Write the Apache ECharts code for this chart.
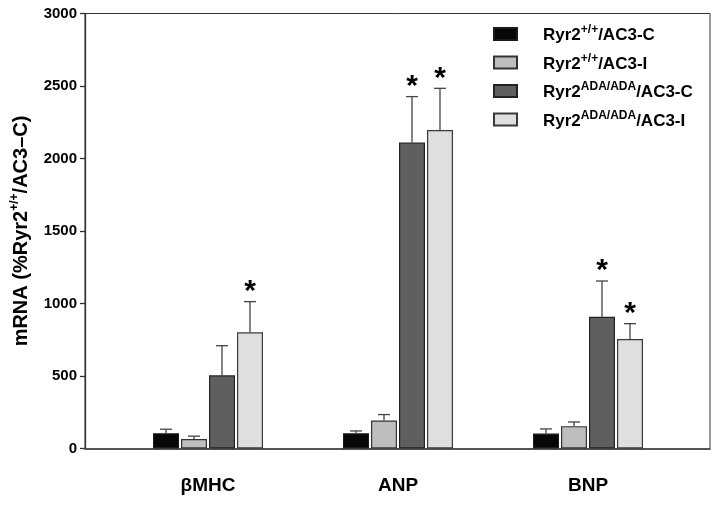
<!DOCTYPE html>
<html>
<head>
<meta charset="utf-8">
<script src="https://cdn.jsdelivr.net/npm/echarts@6/dist/echarts.min.js"></script>
<style>
html,body{margin:0;padding:0;background:#fff;}
#c{width:721px;height:506px;}
</style>
</head>
<body>
<div id="c"></div>
<script>
// ---- data ----
const categories = ['βMHC', 'ANP', 'BNP'];
const seriesNames = ['Ryr2+/+/AC3-C', 'Ryr2+/+/AC3-I', 'Ryr2ADA/ADA/AC3-C', 'Ryr2ADA/ADA/AC3-I'];
const meanWtC  = [105, 105, 103];
const meanWtI  = [65, 193, 154];
const meanAdaC = [505, 2110, 909];
const meanAdaI = [801, 2197, 755];
const errTopWtC  = [133, 121, 135];
const errTopWtI  = [85, 234, 183];
const errTopAdaC = [709, 2427, 1155];
const errTopAdaI = [1013, 2484, 861];
const starWtC  = [false, false, false];
const starWtI  = [false, false, false];
const starAdaC = [false, true, true];
const starAdaI = [true, true, true];
const yTicks = [0, 500, 1000, 1500, 2000, 2500, 3000];

// ---- styling ----
const FONT = "'Liberation Sans', Arial, sans-serif";
const BAR_W = 26, BAR_GAP = 2;
const colors = ['#070707', '#bebebe', '#5f5f5f', '#dfdfdf'];
const borders = ['#1a1a1a', '#333333', '#222222', '#3a3a3a'];

const means = [meanWtC, meanWtI, meanAdaC, meanAdaI];
const errs = [errTopWtC, errTopWtI, errTopAdaC, errTopAdaI];
const stars = [starWtC, starWtI, starAdaC, starAdaI];

const legendRich = {
  'Ryr2+/+/AC3-C': '{m|Ryr2}{s|+/+}{m|/AC3-C}',
  'Ryr2+/+/AC3-I': '{m|Ryr2}{s|+/+}{m|/AC3-I}',
  'Ryr2ADA/ADA/AC3-C': '{m|Ryr2}{s|ADA/ADA}{m|/AC3-C}',
  'Ryr2ADA/ADA/AC3-I': '{m|Ryr2}{s|ADA/ADA}{m|/AC3-I}'
};

const barSeries = seriesNames.map((n, i) => ({
  name: n,
  type: 'bar',
  xAxisIndex: 1, yAxisIndex: 1,
  data: means[i],
  barWidth: BAR_W,
  barGap: (BAR_GAP / BAR_W * 100) + '%',
  itemStyle: { color: colors[i], borderColor: borders[i], borderWidth: 1.2 },
  emphasis: { disabled: true },
  z: 2
}));

const errData = [];
for (let s = 0; s < 4; s++) {
  for (let c = 0; c < categories.length; c++) {
    errData.push([c, means[s][c], errs[s][c], s, stars[s][c] ? 1 : 0]);
  }
}

const errSeries = {
  type: 'custom',
  xAxisIndex: 1, yAxisIndex: 1,
  data: errData,
  encode: { x: 0, y: [1, 2] },
  z: 3,
  silent: true,
  renderItem: function (params, api) {
    const c = api.value(0), m = api.value(1), t = api.value(2), s = api.value(3), st = api.value(4);
    const b = api.coord([c, m]);
    const tp = api.coord([c, t]);
    const x = b[0] + (s - 1.5) * (BAR_W + BAR_GAP);
    const children = [
      { type: 'line', shape: { x1: x, y1: b[1], x2: x, y2: tp[1] }, style: { stroke: '#444', lineWidth: 1.3 } },
      { type: 'line', shape: { x1: x - 6, y1: tp[1], x2: x + 6, y2: tp[1] }, style: { stroke: '#444', lineWidth: 1.3 } }
    ];
    if (st) {
      children.push({
        type: 'text',
        style: { text: '*', x: x, y: tp[1] - 10, fill: '#000', font: 'bold 30px ' + FONT, align: 'center', verticalAlign: 'middle' }
      });
    }
    return { type: 'group', children: children };
  }
};

const chart = echarts.init(document.getElementById('c'), null, { renderer: 'canvas' });
chart.setOption({
  animation: false,
  backgroundColor: '#fff',
  grid: [
    { left: 85, right: 11, top: 13.5, bottom: 57.5, show: true, borderColor: '#333', borderWidth: 1, backgroundColor: 'transparent' },
    { left: 113, right: 38, top: 13.5, bottom: 57.5 }
  ],
  xAxis: [
    { gridIndex: 0, type: 'value', min: 0, max: 1, axisLine: { show: true, lineStyle: { color: '#555', width: 1.8 } },
      axisTick: { show: false }, axisLabel: { show: false }, splitLine: { show: false } },
    { gridIndex: 1, type: 'category', data: categories, axisLine: { show: false }, axisTick: { show: false },
      axisLabel: { margin: 28, color: '#000', fontWeight: 'bold', fontSize: 19, fontFamily: FONT } }
  ],
  yAxis: [
    { gridIndex: 0, type: 'value', min: yTicks[0], max: yTicks[yTicks.length - 1], interval: yTicks[1] - yTicks[0],
      axisLine: { show: true, lineStyle: { color: '#333', width: 1.3 } },
      axisTick: { show: true, length: 5, lineStyle: { color: '#333', width: 1.3 } },
      axisLabel: { margin: 8, color: '#000', fontWeight: 'bold', fontSize: 15, fontFamily: FONT,
        formatter: function (v) { return String(v); } },
      splitLine: { show: false },
      name: '{m|mRNA (%Ryr2}{s|+/+}{m|/AC3–C)}',
      nameLocation: 'middle', nameRotate: 90, nameGap: 54,
      nameTextStyle: {
        rich: {
          m: { fontSize: 20, fontWeight: 'bold', fontFamily: FONT, color: '#000', lineHeight: 22, verticalAlign: 'bottom' },
          s: { fontSize: 12, fontWeight: 'bold', fontFamily: FONT, color: '#000', lineHeight: 12, verticalAlign: 'top' }
        }
      }
    },
    { gridIndex: 1, type: 'value', min: yTicks[0], max: yTicks[yTicks.length - 1], show: false, splitLine: { show: false } }
  ],
  legend: {
    orient: 'vertical', left: 493, top: 24, padding: 0, itemGap: 8.5,
    itemWidth: 23, itemHeight: 12, icon: 'rect',
    data: seriesNames,
    selectedMode: false,
    formatter: function (name) { return legendRich[name]; },
    textStyle: {
      padding: [0, 0, 0, 21],
      rich: {
        m: { fontSize: 17, fontWeight: 'bold', fontFamily: FONT, color: '#000', lineHeight: 20, verticalAlign: 'bottom' },
        s: { fontSize: 12, fontWeight: 'bold', fontFamily: FONT, color: '#000', lineHeight: 12, verticalAlign: 'top' }
      }
    }
  },
  series: barSeries.concat([errSeries])
});
</script>
</body>
</html>
